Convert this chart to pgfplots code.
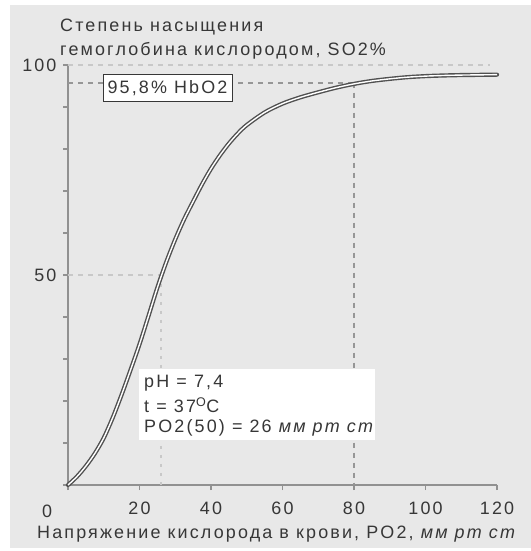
\documentclass[border=0pt]{standalone}
\usepackage{pgfplots}
\pgfplotsset{compat=1.18}
\usepackage{fontspec}
\setmainfont{Liberation Sans}[LetterSpace=12]
\definecolor{panel}{RGB}{232,232,232}
\definecolor{axisgray}{RGB}{145,145,145}
\definecolor{txt}{RGB}{55,55,55}
\definecolor{curve}{RGB}{80,80,80}
\definecolor{dashdark}{RGB}{150,150,150}
\definecolor{dashlight}{RGB}{200,200,200}
\newcommand{\fs}{\fontsize{18}{21}\selectfont}
\pgfplotstableread{
x y
0 0
2.5 2.0
5 4.5
7.5 7.5
10 11.2
12.5 16.0
15 21.5
17.5 27.4
20 33.5
22.5 40.2
25 47
27.5 53.1
30 58.5
32.5 63.3
35 67.5
37.5 71.6
40 75.3
42.5 78.5
45 81.3
47.5 83.7
50 85.7
55 88.7
60 90.8
65 92.3
70 93.5
75 94.6
80 95.5
85 96.2
90 96.7
95 97.1
100 97.35
105 97.5
110 97.6
115 97.65
120 97.7
}\curvedata
\begin{document}
\begin{tikzpicture}
\begin{scope}[x=1bp,y=1bp]
\fill[white] (-68,-66) rectangle (463,485);
\fill[panel] (-58,-63) rectangle (463,480);
\end{scope}
\begin{axis}[
  at={(0,0)}, anchor=south west,
  scale only axis, width=429bp, height=420bp,
  xmin=0, xmax=120, ymin=0, ymax=100,
  axis x line*=bottom, axis y line*=left,
  axis line style={axisgray, line width=1.6bp},
  xtick={0,20,40,60,80,100,120},
  xticklabels={,20,40,60,80,100,120},
  ytick={50,100},
  minor ytick={0,10,20,30,40,60,70,80,90},
  tick align=outside,
  major tick length=5bp, minor tick length=5bp,
  tick style={axisgray, line width=1.6bp},
  /pgf/number format/assume math mode=true,
  tick label style={font=\fs, text=txt},
  xticklabel style={yshift=-8bp},
  yticklabel style={xshift=-3bp},
  clip=false,
]
% reference lines
\addplot[dashlight, line width=1.6bp, dash pattern=on 5bp off 5bp] coordinates {(0,100) (118,100)};
\addplot[dashdark, line width=2bp, dash pattern=on 5bp off 5bp] coordinates {(0,95.8) (80,95.8)};
\addplot[dashdark, line width=2bp, dash pattern=on 5bp off 5bp] coordinates {(80,95.8) (80,0)};
\addplot[dashlight, line width=1.6bp, dash pattern=on 5bp off 5bp] coordinates {(0,50) (26,50)};
\addplot[dashlight, line width=2bp, dash pattern=on 3bp off 6bp] coordinates {(26,50) (26,0)};
\end{axis}
\begin{scope}[x=1bp,y=1bp]
% info box
\fill[white] (71,45.3) rectangle (307,116.4);
\node[anchor=base west, inner sep=0, text=txt, font=\fs] at (76,97) {pH = 7,4};
\node[anchor=base west, inner sep=0, text=txt, font=\fs] at (76,72.4) {t = 37\textsuperscript{O}C};
\node[anchor=base west, inner sep=0, text=txt, font=\fs] at (76,52) {PO2(50) = 26 \textit{мм рт ст}};
% HbO2 box
\draw[fill=white, draw=txt, line width=1bp] (35,383) rectangle (164,410);
\node[inner sep=0, text=txt, font=\fs] at (99.5,396.5) {95,8\% HbO2};
% titles
\node[anchor=base west, inner sep=0, text=txt, font=\fs] at (-8,453) {Степень насыщения};
\node[anchor=base west, inner sep=0, text=txt, font=\fs] at (-8,429) {гемоглобина кислородом, SO2\%};
\node[anchor=base west, inner sep=0, text=txt, font=\fs] at (-31,-54) {Напряжение кислорода в крови, PO2, \textit{мм рт ст}};
\node[anchor=base, inner sep=0, text=txt, font=\fs] at (-21,-33) {0};
\end{scope}
\begin{axis}[
  at={(0,0)}, anchor=south west,
  scale only axis, width=429bp, height=420bp,
  xmin=0, xmax=120, ymin=0, ymax=100,
  hide axis, clip=false,
]
\addplot[curve, line width=4.2bp, smooth, line cap=round] table {\curvedata};
\addplot[white, line width=1.4bp, smooth] table {\curvedata};
\end{axis}
\end{tikzpicture}
\end{document}
